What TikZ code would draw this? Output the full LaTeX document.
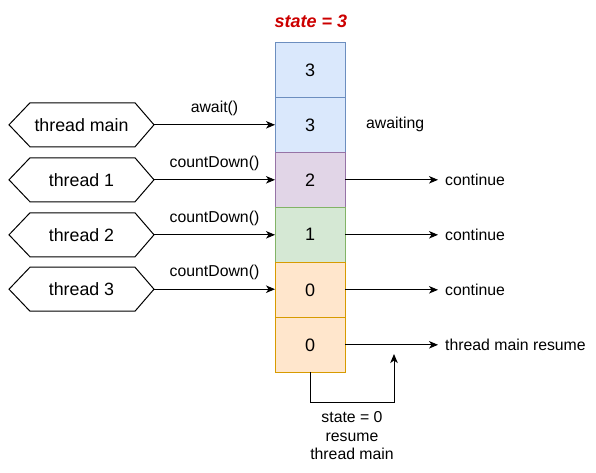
\documentclass[tikz,border=0pt]{standalone}
\usepackage{fontspec}
\setmainfont{Liberation Sans}
\usetikzlibrary{arrows.meta,calc}
\definecolor{bluef}{HTML}{DAE8FC}\definecolor{blued}{HTML}{6C8EBF}
\definecolor{purf}{HTML}{E1D5E7}\definecolor{purd}{HTML}{9673A6}
\definecolor{grnf}{HTML}{D5E8D4}\definecolor{grnd}{HTML}{82B366}
\definecolor{orgf}{HTML}{FFE6CC}\definecolor{orgd}{HTML}{D79B00}
\definecolor{redt}{HTML}{CC0000}
\begin{document}
\begin{tikzpicture}[x=1pt,y=-1pt,
  cell/.style={draw, line width=1pt, minimum width=70pt, minimum height=55pt, inner sep=0pt, outer sep=0pt, font=\fontsize{18}{21}\selectfont},
  hexnode/.style={minimum width=145pt, minimum height=44pt, inner sep=0pt, outer sep=0pt, font=\fontsize{17.8}{21}\selectfont},
  lbl/.style={font=\fontsize{15.8}{18}\selectfont, inner sep=0pt},
  conn/.style={line width=1pt, -{Stealth[length=9pt,width=7.5pt,inset=2.5pt]}}]
\useasboundingbox (0,0) rectangle (596,472);
% title
\node[font=\fontsize{18}{21}\selectfont\bfseries\itshape, text=redt, inner sep=0pt] (title) at (311,21) {state = 3};
% cells
\node[cell, fill=bluef, draw=blued] (c1) at (310,69.8) {3};
\node[cell, fill=bluef, draw=blued] (c2) at (310,124.8) {3};
\node[cell, fill=purf, draw=purd] (c3) at (310,179.8) {2};
\node[cell, fill=grnf, draw=grnd] (c4) at (310,234.8) {1};
\node[cell, fill=orgf, draw=orgd] (c5) at (310,289.8) {0};
\node[cell, fill=orgf, draw=orgd] (c6) at (310,344.8) {0};
% hexagons
\node[hexnode] (tm) at (81.5,124.8) {thread main};
\node[hexnode] (t1) at (81.5,179.8) {thread 1};
\node[hexnode] (t2) at (81.5,234.8) {thread 2};
\node[hexnode] (t3) at (81.5,289.2) {thread 3};
\foreach \n in {tm,t1,t2,t3}{
  \draw[line width=1pt] (\n.west) -- ([xshift=21pt]\n.north west) -- ([xshift=-19pt]\n.north east) -- (\n.east)
    -- ([xshift=-19pt]\n.south east) -- ([xshift=21pt]\n.south west) -- cycle;
}
% left connectors
\draw[conn] (tm.east) -- (c2.west) node[lbl, midway, above=9pt] {await()};
\draw[conn] (t1.east) -- (t1.east -| c3.west) node[lbl, midway, above=9pt] {countDown()};
\draw[conn] (t2.east) -- (t2.east -| c4.west) node[lbl, midway, above=9pt] {countDown()};
\draw[conn] (t3.east) -- (t3.east -| c5.west) node[lbl, midway, above=9pt] {countDown()};
% right labels
\node[lbl, anchor=west] (aw) at (366,124.8) {awaiting};
\node[lbl, anchor=west] (k1) at (445,179.8) {continue};
\node[lbl, anchor=west] (k2) at (445,234.8) {continue};
\node[lbl, anchor=west] (k3) at (445,289.8) {continue};
\node[lbl, anchor=west] (rs) at (445,344.8) {thread main resume};
\foreach \c/\k in {c3/k1,c4/k2,c5/k3,c6/rs}{
  \draw[conn] (\c.east) -- ([xshift=-7pt]\k.west);
}
% bottom loop
\coordinate (up) at (394,354);
\draw[conn] (c6.south) -- (310,402) -- (394,402) -- (up);
\node[lbl, align=center, font=\fontsize{15.8}{18.5}\selectfont] (note) at (352,436) {state = 0\\resume\\thread main};
\end{tikzpicture}
\end{document}
